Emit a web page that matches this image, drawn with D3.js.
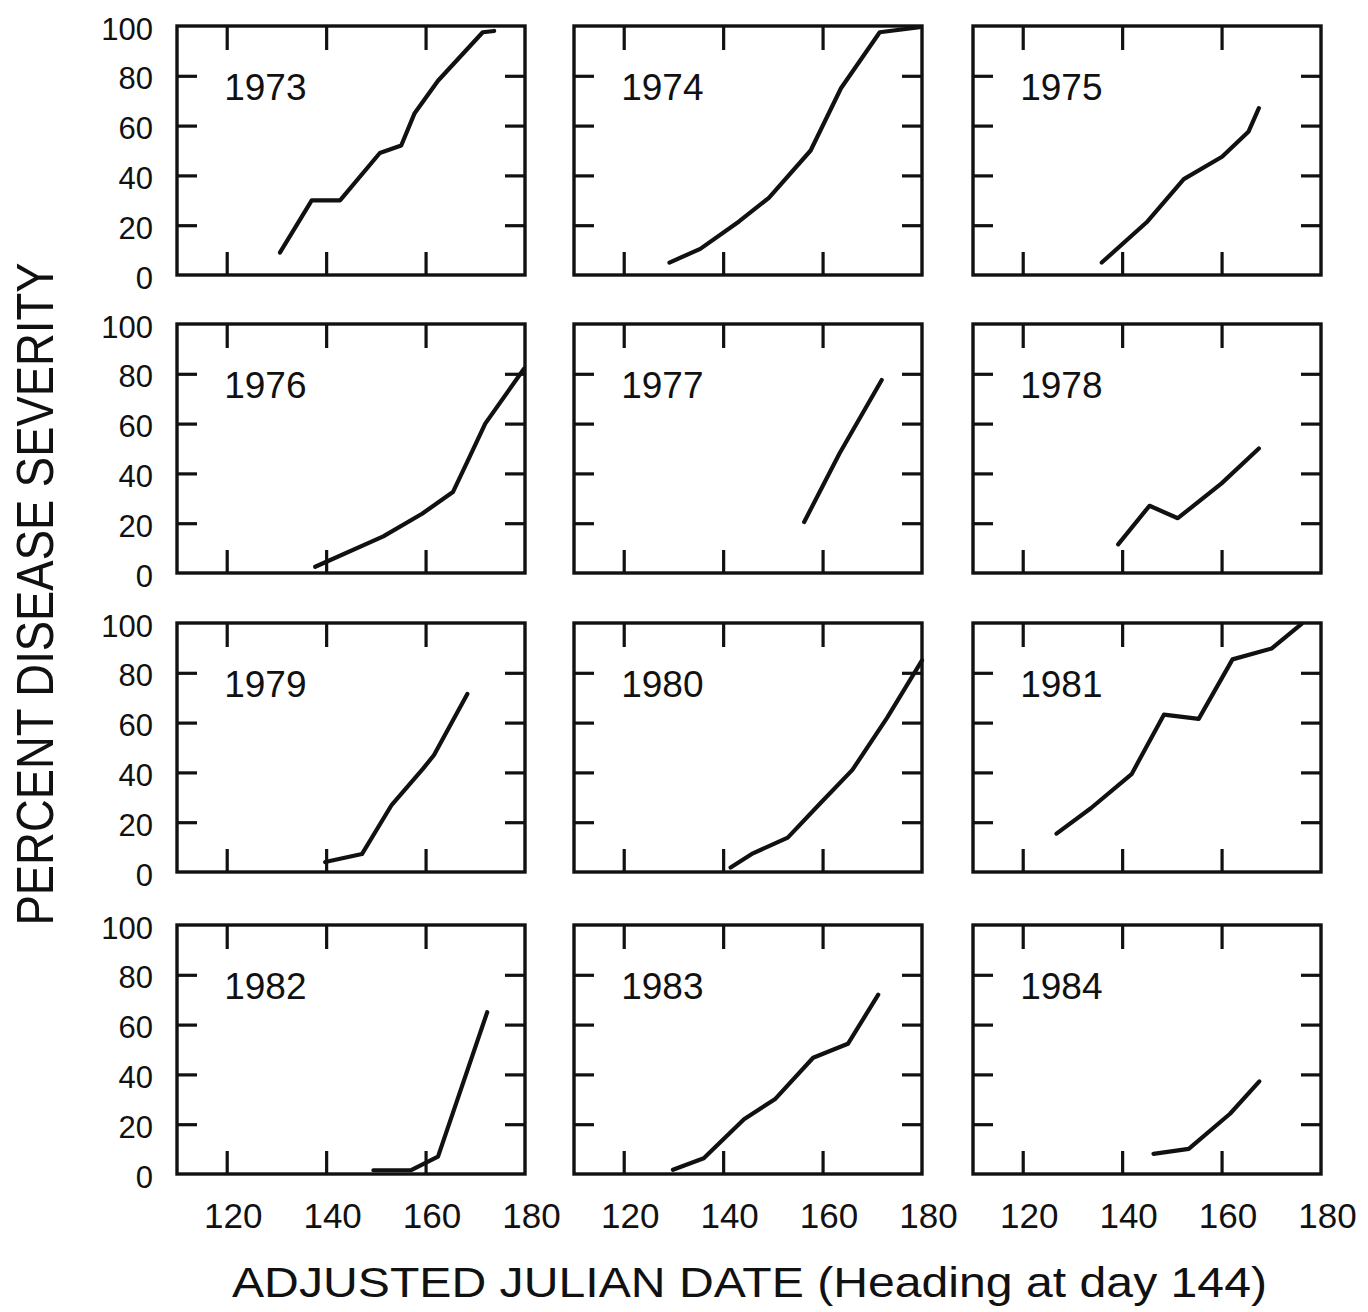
<!DOCTYPE html>
<meta charset="utf-8">
<style>
    body {
        margin: 0;
        background: #fff;
    }

    text {
        font-family: "Liberation Sans", Arial, sans-serif;
        fill: #111;
    }

    .frame {
        fill: none;
        stroke: #111;
        stroke-width: 3.4;
    }

    .tick line {
        stroke: #111;
        stroke-width: 3.2;
    }

    .curve {
        fill: none;
        stroke: #111;
        stroke-width: 4.2;
        stroke-linejoin: round;
        stroke-linecap: round;
    }
</style>

<svg width="1368" height="1312"></svg>

<script src="https://cdnjs.cloudflare.com/ajax/libs/d3/7.8.5/d3.min.js"></script>
<script>

    // DATA

    var years = [1973, 1974, 1975, 1976, 1977, 1978, 1979, 1980, 1981, 1982, 1983, 1984];

    // adjusted julian day of each reading, one list per year
    var days = [
        [130.7, 137.1, 142.8, 150.8, 155.1, 157.8, 162.5, 171.5, 173.8],
        [129.2, 135.4, 143.2, 149.2, 157.6, 163.7, 171.5, 179.5],
        [135.9, 145.1, 152.4, 160.1, 165.4, 167.5],
        [137.8, 151.5, 159.3, 165.5, 168.6, 172, 179.8],
        [156.3, 163.4, 171.9],
        [139.2, 145.5, 151.2, 160, 167.5],
        [139.8, 147.2, 153.2, 159.5, 161.7, 168.4],
        [141.5, 146, 153, 159.5, 166, 173, 180],
        [126.8, 133.7, 141.9, 148.4, 155.4, 162.2, 170.1, 176.1],
        [149.5, 157, 162.5, 172.4],
        [129.9, 136.1, 144.2, 150.4, 158.1, 165.1, 171.2],
        [146.3, 153.4, 161.7, 167.6]
    ];

    // percent disease severity for the same readings
    var severity = [
        [9, 30, 30, 49, 52, 65, 78, 97.5, 98],
        [5, 10.5, 21.5, 31, 50, 75, 97.5, 99.5],
        [5, 21.5, 38.5, 47.5, 57.5, 67],
        [2.5, 14.7, 23.8, 32.5, 45.5, 60, 82],
        [20.5, 48, 77.5],
        [11.5, 27, 22, 36, 50],
        [4, 7.2, 27, 41.5, 47, 71.5],
        [1.8, 7.5, 13.8, 27.5, 41, 62, 85],
        [15.4, 25.6, 39.3, 63.2, 61.5, 85.4, 89.8, 99.6],
        [1.5, 1.5, 7, 65],
        [1.7, 6.3, 22, 30, 46.7, 52.3, 72],
        [8.1, 10.1, 24.2, 37.2]
    ];

    var xTicks = [120, 140, 160],
        xLabels = [120, 140, 160, 180],
        yTicks = [20, 40, 60, 80],
        yLabels = [0, 20, 40, 60, 80, 100];

    // SETUP

    var svg = d3.select("svg"),
        colLeft = [177, 574, 973],
        rowTop = [26, 324, 623, 925],
        w = 348,
        h = 249;

    var x = d3.scaleLinear().domain([110, 180]).range([0, w]),
        y = d3.scaleLinear().domain([0, 100]).range([h, 0]);

    var line = d3.line()
        .x(function (d) { return x(d[0]); })
        .y(function (d) { return y(d[1]); });

    // DRAWING

    years.forEach(function (yr, i) {
        var col = i % 3,
            row = Math.floor(i / 3);

        var g = svg.append("g")
            .attr("transform", "translate(" + colLeft[col] + "," + rowTop[row] + ")");

        // inward ticks on all four sides
        g.append("g")
            .call(d3.axisTop(x).tickValues(xTicks).tickSize(-24).tickFormat(""))
            .select(".domain").remove();

        g.append("g")
            .attr("transform", "translate(0," + h + ")")
            .call(d3.axisBottom(x).tickValues(xTicks).tickSize(-23).tickFormat(""))
            .select(".domain").remove();

        g.append("g")
            .call(d3.axisLeft(y).tickValues(yTicks).tickSize(-20).tickFormat(""))
            .select(".domain").remove();

        g.append("g")
            .attr("transform", "translate(" + w + ",0)")
            .call(d3.axisRight(y).tickValues(yTicks).tickSize(-20).tickFormat(""))
            .select(".domain").remove();

        g.append("rect")
            .attr("class", "frame")
            .attr("width", w)
            .attr("height", h);

        g.append("path")
            .datum(d3.zip(days[i], severity[i]))
            .attr("class", "curve")
            .attr("d", line);

        g.append("text")
            .attr("x", x(119.5))
            .attr("y", 74)
            .style("font-size", "37px")
            .text(yr);

        if (col === 0) {
            var ya = g.append("g")
                .call(d3.axisLeft(y).tickValues(yLabels).tickSize(0).tickPadding(24));
            ya.select(".domain").remove();
            ya.selectAll("text")
                .attr("dy", "0.42em")
                .style("font-size", "31px");
        }

        if (row === 3) {
            var xa = g.append("g")
                .attr("transform", "translate(0," + h + ")")
                .call(d3.axisBottom(x).tickValues(xLabels).tickSize(0).tickPadding(29));
            xa.select(".domain").remove();
            xa.selectAll("text")
                .attr("dx", 6)
                .style("font-size", "35px");
        }
    });

    // AXIS TITLES

    svg.append("text")
        .attr("transform", "translate(53,594) rotate(-90)")
        .attr("text-anchor", "middle")
        .attr("textLength", 663)
        .attr("lengthAdjust", "spacingAndGlyphs")
        .style("font-size", "52px")
        .text("PERCENT DISEASE SEVERITY");

    svg.append("text")
        .attr("x", 232)
        .attr("y", 1297)
        .attr("textLength", 1035)
        .attr("lengthAdjust", "spacingAndGlyphs")
        .style("font-size", "42px")
        .text("ADJUSTED JULIAN DATE (Heading at day 144)");

</script>
